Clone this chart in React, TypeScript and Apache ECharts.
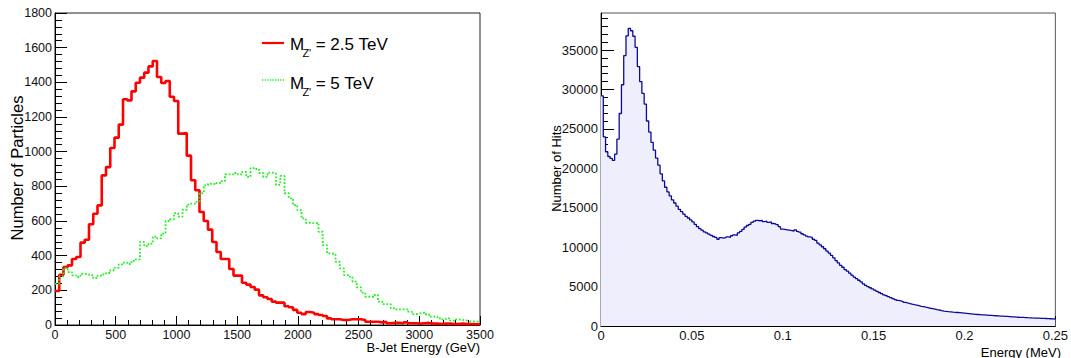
import React, { useEffect, useRef } from 'react';
import * as echarts from 'echarts';

const FONT = '"Liberation Sans", Arial, Helvetica, sans-serif';

// Left histogram: B-jet energy, 100 bins of 35 GeV from 0 to 3500 GeV
const jetBinWidth = 35;
const redCounts = [
  196, 290, 335, 344, 381, 392, 475, 492, 581, 642,
  690, 863, 911, 1021, 1081, 1156, 1302, 1296, 1348, 1398,
  1427, 1456, 1492, 1523, 1431, 1396, 1408, 1317, 1292, 1104,
  1108, 977, 835, 777, 652, 600, 550, 479, 421, 381,
  381, 323, 285, 285, 244, 233, 219, 204, 171, 160,
  150, 135, 129, 129, 108, 102, 87, 71, 63, 75,
  71, 63, 58, 52, 38, 33, 33, 29, 29, 33,
  33, 33, 29, 19, 19, 19, 15, 19, 10, 12,
  12, 10, 15, 10, 10, 8, 10, 12, 8, 8,
  6, 8, 8, 6, 5, 8, 5, 5, 4, 4,
];
const greenCounts = [
  238, 280, 328, 305, 286, 277, 295, 293, 288, 270,
  285, 292, 300, 316, 330, 350, 360, 352, 370, 379,
  479, 455, 470, 510, 500, 527, 600, 610, 645, 625,
  665, 695, 700, 710, 760, 806, 815, 811, 820, 830,
  869, 869, 877, 869, 883, 854, 905, 900, 877, 854,
  879, 875, 808, 860, 760, 731, 692, 663, 615, 590,
  586, 590, 538, 461, 413, 410, 365, 327, 288, 279,
  250, 217, 187, 163, 163, 173, 135, 121, 121, 96,
  90, 90, 90, 77, 63, 67, 71, 62, 48, 48,
  38, 33, 38, 25, 33, 29, 25, 21, 19, 19,
];

// Right histogram: energy deposit, 200 bins of 0.00125 MeV from 0 to 0.25 MeV
const hitBinWidth = 0.00125;
const hitCounts = [
  29200, 24000, 22100, 21500, 21250, 21000, 21800, 23700, 26950, 30600,
  34300, 36800, 37750, 37450, 36750, 35350, 32900, 31000, 29500, 28150,
  26000, 24600, 23300, 22300, 21300, 20400, 19300, 18400, 17600, 17000,
  16500, 16000, 15600, 15200, 14800, 14500, 14200, 13900, 13700, 13450,
  13200, 12900, 12600, 12350, 12150, 11950, 11800, 11650, 11500, 11350,
  11250, 11000, 11200, 11150, 11200, 11300, 11250, 11450, 11550, 11500,
  11800, 12000, 12250, 12550, 12750, 12900, 13150, 13300, 13400, 13350,
  13400, 13250, 13300, 13150, 13200, 13000, 12950, 12850, 12600, 12300,
  12250, 12200, 12150, 12100, 12050, 12200, 12000, 11900, 11700, 11550,
  11400, 11300, 11250, 11000, 10850, 10500, 10300, 10050, 9800, 9500,
  9250, 8950, 8650, 8300, 8000, 7700, 7450, 7150, 6950, 6700,
  6450, 6200, 6000, 5800, 5600, 5350, 5150, 5000, 4850, 4700,
  4550, 4400, 4250, 4100, 3950, 3850, 3720, 3600, 3480, 3350,
  3250, 3180, 3100, 3000, 2920, 2850, 2770, 2700, 2640, 2580,
  2500, 2450, 2380, 2320, 2250, 2200, 2150, 2080, 2030, 1960,
  1900, 1850, 1820, 1800, 1760, 1730, 1710, 1690, 1660, 1630,
  1600, 1570, 1540, 1510, 1480, 1460, 1440, 1420, 1400, 1380,
  1360, 1340, 1310, 1300, 1280, 1260, 1250, 1230, 1210, 1190,
  1170, 1150, 1130, 1110, 1100, 1090, 1070, 1050, 1040, 1020,
  1010, 1000, 990, 970, 960, 950, 930, 920, 905, 890,
];

const hitsYMax = 39700;
const hitsMajorTicks = [0, 5000, 10000, 15000, 20000, 25000, 30000, 35000];
const hitsMinorTicks = [
  1000, 2000, 3000, 4000, 6000, 7000, 8000, 9000, 11000, 12000, 13000, 14000,
  16000, 17000, 18000, 19000, 21000, 22000, 23000, 24000, 26000, 27000, 28000, 29000,
  31000, 32000, 33000, 34000, 36000, 37000, 38000, 39000,
];

const legendLabels = ['2.5 TeV', '5 TeV'];

function toSteps(counts: number[], width: number): number[][] {
  const pts = counts.map((v, i) => [i * width, v]);
  pts.push([counts.length * width, counts[counts.length - 1]]);
  return pts;
}

const fmt = (v: number) => String(parseFloat(Number(v).toFixed(5)));

function baseAxis(fontSize: number, tickLen: number, minorLen: number, margin: number) {
  return {
    type: 'value' as const,
    axisLine: { show: true, onZero: false, lineStyle: { color: '#000', width: 1 } },
    axisTick: { show: true, inside: true, length: tickLen, lineStyle: { color: '#000', width: 1 } },
    minorTick: { show: true, splitNumber: 5, length: minorLen, lineStyle: { color: '#000', width: 1 } },
    splitLine: { show: false },
    minorSplitLine: { show: false },
    axisLabel: { margin, color: '#111', fontFamily: FONT, fontSize, formatter: fmt },
  };
}

export default function App() {
  const ref = useRef<HTMLDivElement>(null);
  useEffect(() => {
    if (!ref.current) return;
    const chart = echarts.init(ref.current, undefined, { renderer: 'svg' });
    const option: any = {
      animation: false,
      backgroundColor: '#fff',
      grid: [
        { left: 55, top: 13, width: 425, height: 312, show: true, borderColor: '#222', borderWidth: 1, backgroundColor: 'transparent' },
        { left: 601, top: 13, width: 460, height: 313, show: true, borderColor: '#555', borderWidth: 1, backgroundColor: 'transparent' },
      ],
      xAxis: [
        { ...baseAxis(12.5, 9, 5, 3), gridIndex: 0, min: 0, max: 3500, interval: 500 },
        { ...baseAxis(13, 10, 5, 3), gridIndex: 1, min: 0, max: 0.25, interval: 0.05 },
      ],
      yAxis: [
        { ...baseAxis(12.5, 12, 7, 3), gridIndex: 0, min: 0, max: 1800, interval: 200 },
        {
          ...baseAxis(13, 13, 7, 3), gridIndex: 1, min: 0, max: hitsYMax, interval: 5000,
          minorTick: { show: false },
          axisTick: { show: true, inside: true, length: 13, lineStyle: { color: '#000' }, customValues: hitsMajorTicks },
          axisLabel: { margin: 3, color: '#111', fontFamily: FONT, fontSize: 13, formatter: fmt, customValues: hitsMajorTicks },
        },
        {
          type: 'value', gridIndex: 1, min: 0, max: hitsYMax, position: 'left',
          axisLine: { show: false }, splitLine: { show: false },
          axisLabel: { show: false },
          axisTick: { show: true, inside: true, length: 7, lineStyle: { color: '#000' }, customValues: hitsMinorTicks },
        },
      ],
      series: [
        {
          type: 'line', xAxisIndex: 0, yAxisIndex: 0, step: 'end', symbol: 'none',
          data: toSteps(redCounts, jetBinWidth),
          lineStyle: { color: '#ff0000', width: 2.6 },
        },
        {
          type: 'line', xAxisIndex: 0, yAxisIndex: 0, step: 'end', symbol: 'none',
          data: toSteps(greenCounts, jetBinWidth),
          lineStyle: { color: '#22ee22', width: 1.8, type: 'dotted' },
        },
        {
          type: 'line', xAxisIndex: 1, yAxisIndex: 1, step: 'end', symbol: 'none',
          data: toSteps(hitCounts, hitBinWidth),
          lineStyle: { color: '#0b0b96', width: 1.3 },
          areaStyle: { color: '#eeeefc', opacity: 1 },
        },
      ],
      graphic: [
        // Legend
        { type: 'line', shape: { x1: 262, y1: 43, x2: 284, y2: 43 }, style: { stroke: '#ff0000', lineWidth: 2.2 } },
        { type: 'text', x: 290, y: 44.5, style: { text: 'M', font: `17px ${FONT}`, fill: '#000', verticalAlign: 'middle' } },
        { type: 'text', x: 302.4, y: 53, style: { text: "Z'", font: `11px ${FONT}`, fill: '#000', verticalAlign: 'middle' } },
        { type: 'text', x: 311, y: 44.5, style: { text: ' = ' + legendLabels[0], font: `17px ${FONT}`, fill: '#000', verticalAlign: 'middle' } },
        { type: 'line', shape: { x1: 262, y1: 80, x2: 284, y2: 80 }, style: { stroke: '#22ee22', lineWidth: 1.3, lineDash: [1.3, 1.3] } },
        { type: 'text', x: 290, y: 83, style: { text: 'M', font: `17px ${FONT}`, fill: '#000', verticalAlign: 'middle' } },
        { type: 'text', x: 302.4, y: 91.5, style: { text: "Z'", font: `11px ${FONT}`, fill: '#000', verticalAlign: 'middle' } },
        { type: 'text', x: 311, y: 83, style: { text: ' = ' + legendLabels[1], font: `17px ${FONT}`, fill: '#000', verticalAlign: 'middle' } },
        // Axis titles
        { type: 'text', x: 16.5, y: 168, rotation: Math.PI / 2, style: { text: 'Number of Particles', font: `16.5px ${FONT}`, fill: '#000', align: 'center', verticalAlign: 'middle' } },
        { type: 'text', x: 480, y: 347, style: { text: 'B-Jet Energy (GeV)', font: `13px ${FONT}`, fill: '#000', align: 'right', verticalAlign: 'middle' } },
        { type: 'text', x: 556, y: 168.5, rotation: Math.PI / 2, style: { text: 'Number of Hits', font: `13px ${FONT}`, fill: '#000', align: 'center', verticalAlign: 'middle' } },
        { type: 'text', x: 1061, y: 352, style: { text: 'Energy (MeV)', font: `13px ${FONT}`, fill: '#000', align: 'right', verticalAlign: 'middle' } },
      ],
    };
    chart.setOption(option);
    return () => chart.dispose();
  }, []);
  return (
    <div
      ref={ref}
      style={{ position: 'fixed', left: 0, top: 0, width: 1071, height: 358, background: '#fff' }}
    />
  );
}
